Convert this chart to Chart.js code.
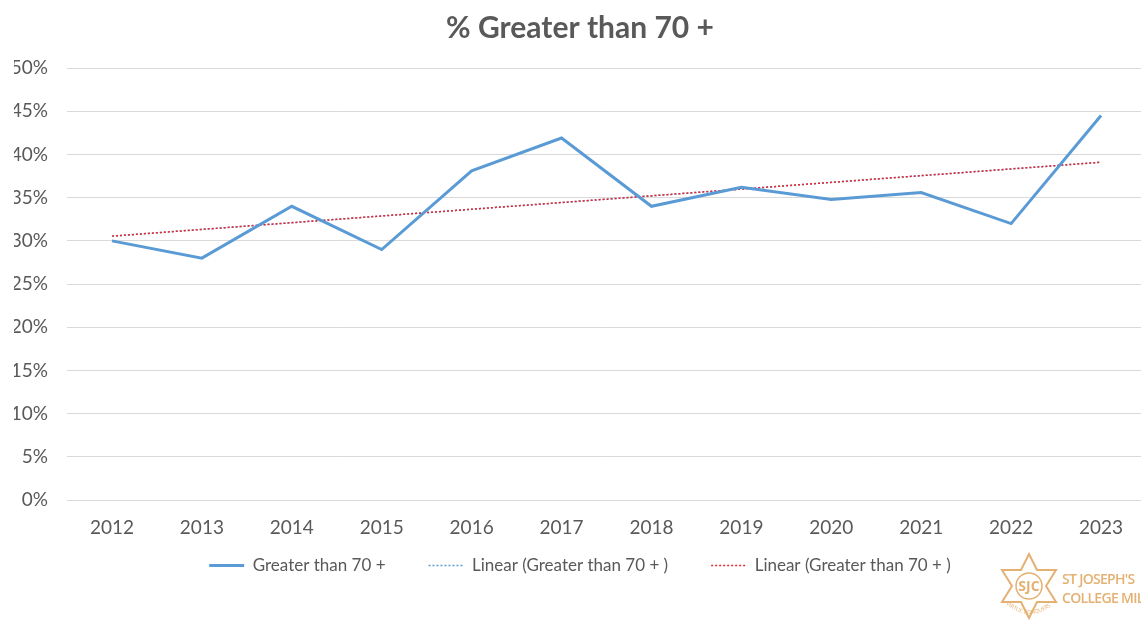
<!DOCTYPE html>
<html>
<head>
<meta charset="utf-8">
<script src="https://cdn.jsdelivr.net/npm/chart.js@4"></script>
<style>
  html, body { margin: 0; padding: 0; background: #fff; }
  #wrap { position: relative; width: 1141px; height: 623px; overflow: hidden; }
  #logo { position: absolute; left: 1000px; top: 552px; width: 160px; height: 70px; color: #e5b172; font-family: "Open Sans", sans-serif; }
  #logo svg { position: absolute; left: 0; top: 0; }
  #logo .txt { position: absolute; left: 62px; top: 17px; font-size: 14px; line-height: 19px; white-space: nowrap; letter-spacing: -0.7px; font-weight: 600; }
</style>
</head>
<body>
<div id="wrap">
  <canvas id="mychart" width="1160" height="623"></canvas>
  <div id="logo">
    <svg width="60" height="70" viewBox="0 0 60 70">
      <polygon points="29,2 37,18 56,18 46,34 56,50 37,50 29,66 21,50 2,50 12,34 2,18 21,18" fill="none" stroke="#e5b172" stroke-width="2"/>
      <circle cx="29" cy="34" r="13" fill="none" stroke="#e5b172" stroke-width="1.5"/>
      <text x="29" y="39" text-anchor="middle" font-size="14" font-weight="bold" font-family="Open Sans" fill="#e5b172">SJC</text>
      <path id="arc" d="M6,52 Q29,72 54,52" fill="none"/>
      <text font-size="5.5" font-family="Open Sans" fill="#e5b172"><textPath href="#arc">VIRTUE CONQUERS</textPath></text>
    </svg>
    <div class="txt">ST JOSEPH'S<br>COLLEGE MIL</div>
  </div>
</div>
<script>
var years = ["2012", "2013", "2014", "2015", "2016", "2017", "2018", "2019", "2020", "2021", "2022", "2023"];
var greaterThan70 = [30, 28, 34, 29, 38.1, 41.9, 34, 36.2, 34.8, 35.6, 32, 44.5];
// trend line end points
var trendStart = 30.55;
var trendEnd = 39.1;
var yTicks = [0, 5, 10, 15, 20, 25, 30, 35, 40, 45, 50];

var trendData = [
    { x: years[0], y: trendStart },
    { x: years[years.length - 1], y: trendEnd }
];

var textColor = '#595959';
var fontName = 'Lato, "Open Sans", sans-serif';

// put the legend row just under the axis labels, keeping the wide gaps between items
var legendShift = {
    id: 'legendShift',
    afterLayout: function (chart) {
        var lg = chart.legend;
        var h = lg.bottom - lg.top;
        lg.top = 514;
        lg.bottom = lg.top + h;
    }
};

new Chart(document.getElementById('mychart'), {
    type: 'line',
    data: {
        labels: years,
        datasets: [
            {
                label: 'Greater than 70 +',
                data: greaterThan70,
                borderColor: '#5b9bd5',
                backgroundColor: '#5b9bd5',
                borderWidth: 3,
                pointRadius: 0,
                tension: 0,
                order: 1
            },
            {
                label: 'Linear (Greater than 70 + )',
                data: trendData,
                borderColor: '#5b9bd5',
                backgroundColor: 'rgba(0,0,0,0)',
                borderWidth: 1.5,
                borderDash: [2, 2],
                pointRadius: 0,
                order: 3
            },
            {
                label: 'Linear (Greater than 70 + )',
                data: trendData,
                borderColor: '#e8262d',
                backgroundColor: 'rgba(0,0,0,0)',
                borderWidth: 1.5,
                borderDash: [2, 2],
                pointRadius: 0,
                order: 2
            }
        ]
    },
    options: {
        responsive: false,
        animation: false,
        layout: { padding: { left: 14, right: 14, top: 0, bottom: 0 } },
        plugins: {
            title: {
                display: true,
                text: '% Greater than 70 +',
                color: textColor,
                font: { family: fontName, size: 30, weight: 'bold' },
                padding: { top: 10, bottom: 22 }
            },
            legend: {
                position: 'bottom',
                maxHeight: 68,
                labels: {
                    color: textColor,
                    font: { family: fontName, size: 17 },
                    boxWidth: 35,
                    boxHeight: 0,
                    padding: 43,
                    sort: function (a, b) { return a.datasetIndex - b.datasetIndex; }
                }
            },
            tooltip: { enabled: false }
        },
        scales: {
            x: {
                offset: true,
                grid: { display: false, drawTicks: false },
                border: { display: false },
                ticks: {
                    color: textColor,
                    font: { family: fontName, size: 19 },
                    padding: 16
                }
            },
            y: {
                min: 0,
                max: 50,
                afterBuildTicks: function (scale) {
                    scale.ticks = yTicks.map(function (v) { return { value: v }; });
                },
                afterFit: function (scale) { scale.width = 53; },
                grid: { color: '#d9d9d9', lineWidth: 1, drawTicks: false },
                border: { display: false },
                ticks: {
                    color: textColor,
                    font: { family: fontName, size: 19 },
                    padding: 19,
                    callback: function (v) { return v + '%'; }
                }
            }
        }
    },
    plugins: [legendShift]
});
</script>
</body>
</html>
